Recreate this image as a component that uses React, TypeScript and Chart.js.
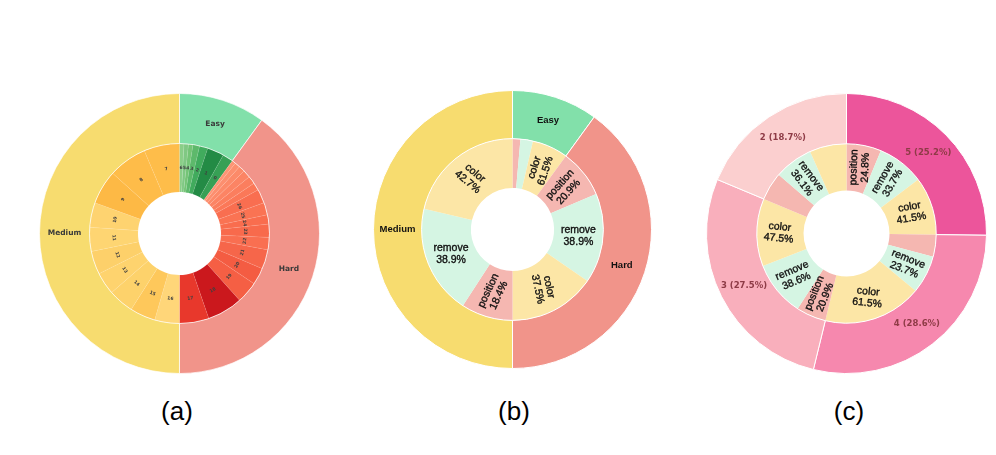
import React, { useEffect, useRef } from "react";
import { Chart, registerables } from "chart.js";

Chart.register(...registerables);

// ---------------- (a) difficulty / level ----------------
const aGroups = ["Easy", "Hard", "Medium"];
const aGroupColors = ["#82E0AA", "#F1948A", "#F7DC6F"];

const aEasyLevels = ["6", "5", "4", "3", "2", "1", "0"];
const aEasyValues = [0.8, 0.8, 0.8, 1.2, 1.5, 3.0, 1.9];
const aEasyColors = ["#8ACE88", "#80C883", "#74C476", "#5DB96B", "#41AB5D", "#238B45", "#37A055"];

const aHardLevels = ["", "", "", "", "", "", "26", "25", "24", "23", "22", "21", "20", "19", "18", "17"];
const aHardValues = [0.69, 0.97, 1.11, 1.39, 1.39, 1.39, 2.5, 2.22, 1.67, 2.36, 2.22, 3.47, 3.06, 3.89, 6.39, 5.28];
const aHardColors = [
  "#FD9575", "#FC8F6F", "#FC8A69", "#FC8464", "#FB7E5E", "#FB7858", "#F96E50", "#FA7353",
  "#F96D4E", "#F86A4C", "#F96F51", "#F6664A", "#F45C42", "#F55F44", "#CB181D", "#E8382C",
];

const aMediumLevels = ["16", "15", "14", "13", "12", "11", "10", "9", "8", "7"];
const aMediumValues = [4.44, 4.58, 4.58, 4.03, 4.17, 4.31, 4.44, 6.11, 6.94, 6.39];
const aMediumColors = ["#FFD679", "#FEC85B", "#FDD26B", "#FED36E", "#FDD06A", "#FED572", "#FED370", "#FDB945", "#FEBC49", "#FEBD4A"];

// ---------------- (b) difficulty / task ----------------
const bGroups = ["Easy", "Hard", "Medium"];
const bGroupShares = [10, 40, 50];
const bGroupColors = ["#82E0AA", "#F1948A", "#F7DC6F"];
const bTasks = ["position", "remove", "color"];
const bTaskColors = ["#F5B7B1", "#D5F5E3", "#FCE6A6"];
const bEasyPct = [13.5, 21.5, 61.5];
const bHardPct = [20.9, 38.9, 37.5];
const bMediumPct = [18.4, 38.9, 42.7];
const bEasyShown = [false, false, true];
const bHardShown = [true, true, true];
const bMediumShown = [true, true, true];

// ---------------- (c) count / task ----------------
const cGroups = ["5", "4", "3", "2"];
const cGroupShares = [25.2, 28.6, 27.5, 18.7];
const cGroupColors = ["#EC559B", "#F688AE", "#F9AFBC", "#FBCFCF"];
const cTasks = ["position", "remove", "color"];
const cTaskColors = ["#F5B7B1", "#D5F5E3", "#FCE6A6"];
const c5Pct = [24.8, 33.7, 41.5];
const c4Pct = [13.8, 23.7, 61.5];
const c3Pct = [20.9, 38.6, 47.5];
const c2Pct = [26.1, 36.1, 34.4];
const c5Shown = [true, true, true];
const c4Shown = [false, true, true];
const c3Shown = [true, true, true];
const c2Shown = [false, true, false];

const panelLabels = ["(a)", "(b)", "(c)"];

// ---------------- label styling (rotation in degrees, per inner slice) ----------------
const bInnerRotation = [0, 0, -72, -48, 0, 78, -65, 0, 40];
const cInnerRotation = [-88, -60, -10, 0, 22, 6, -68, -23, 6, 0, 53, 0];

// ---------------- helpers ----------------
type RingLabel = {
  texts: string[];
  font: string;
  color: string;
  orient: "none" | "radial" | "tangent" | "fixed";
  rotations?: number[];
  radius: number;
  lineHeight: number;
  thicken?: number;
};

type Ring = {
  values: number[];
  colors: string[];
  borderColor: string;
  borderWidth: number;
  weight: number;
  label: RingLabel;
};

type Spec = {
  left: number;
  top: number;
  size: number;
  cutout: number;
  outer: Ring;
  inner: Ring;
};

const sum = (a: number[]) => a.reduce((s, v) => s + v, 0);

function normAngle(a: number) {
  let r = Math.atan2(Math.sin(a), Math.cos(a));
  if (r > Math.PI / 2 + 1e-6) r -= Math.PI;
  if (r < -Math.PI / 2 - 1e-6) r += Math.PI;
  return r;
}

function makeLabelPlugin(rings: RingLabel[]) {
  return {
    id: "ringLabels",
    afterDatasetsDraw(chart: any) {
      const ctx = chart.ctx as CanvasRenderingContext2D;
      rings.forEach((ring, di) => {
        const meta = chart.getDatasetMeta(di);
        meta.data.forEach((el: any, i: number) => {
          const text = ring.texts[i];
          if (!text) return;
          const p = el.getProps(["x", "y", "startAngle", "endAngle", "innerRadius", "outerRadius"], true);
          const mid = (p.startAngle + p.endAngle) / 2;
          const r = p.innerRadius + (p.outerRadius - p.innerRadius) * ring.radius;
          const px = p.x + Math.cos(mid) * r;
          const py = p.y + Math.sin(mid) * r;
          let rot = 0;
          if (ring.orient === "radial") rot = normAngle(mid);
          else if (ring.orient === "tangent") rot = normAngle(mid + Math.PI / 2);
          else if (ring.orient === "fixed" && ring.rotations) rot = (ring.rotations[i] * Math.PI) / 180;
          ctx.save();
          ctx.translate(px, py);
          ctx.rotate(rot);
          ctx.font = ring.font;
          ctx.fillStyle = ring.color;
          ctx.strokeStyle = ring.color;
          ctx.lineWidth = ring.thicken || 0;
          ctx.textAlign = "center";
          ctx.textBaseline = "middle";
          const lines = text.split("\n");
          lines.forEach((ln, j) => {
            const yy = (j - (lines.length - 1) / 2) * ring.lineHeight;
            ctx.fillText(ln, 0, yy);
            if (ring.thicken) ctx.strokeText(ln, 0, yy);
          });
          ctx.restore();
        });
      });
    },
  };
}

function nestedValues(shares: number[], pcts: number[][]) {
  const out: number[] = [];
  shares.forEach((s, gi) => {
    const tot = sum(pcts[gi]);
    pcts[gi].forEach((v) => out.push((s * v) / tot));
  });
  return out;
}

function nestedTexts(pcts: number[][], shown: boolean[][], names: string[]) {
  const out: string[] = [];
  pcts.forEach((g, gi) =>
    g.forEach((v, ti) => out.push(shown[gi][ti] ? `${names[ti]}\n${v.toFixed(1)}%` : ""))
  );
  return out;
}

// ---------------- specs ----------------
const innerFont = "10.5px 'Liberation Sans', Arial, sans-serif";

const specA: Spec = {
  left: 39,
  top: 93,
  size: 281,
  cutout: 41.5,
  outer: {
    values: [sum(aEasyValues), sum(aHardValues), sum(aMediumValues)],
    colors: aGroupColors,
    borderColor: "rgba(255,255,255,0.7)",
    borderWidth: 1,
    weight: 50,
    label: {
      texts: aGroups,
      font: "bold 7.5px 'DejaVu Sans', sans-serif",
      color: "#3a3a3a",
      orient: "none",
      radius: 0.5,
      lineHeight: 9,
    },
  },
  inner: {
    values: [...aEasyValues, ...aHardValues, ...aMediumValues],
    colors: [...aEasyColors, ...aHardColors, ...aMediumColors],
    borderColor: "rgba(255,255,255,0.14)",
    borderWidth: 0.5,
    weight: 48.5,
    label: {
      texts: [...aEasyLevels, ...aHardLevels, ...aMediumLevels],
      font: "bold 4.5px 'DejaVu Sans', sans-serif",
      color: "#404040",
      orient: "tangent",
      radius: 0.5,
      lineHeight: 5,
    },
  },
};

const bPcts = [bEasyPct, bHardPct, bMediumPct];
const bShown = [bEasyShown, bHardShown, bMediumShown];
const specB: Spec = {
  left: 373,
  top: 90,
  size: 279,
  cutout: 41.6,
  outer: {
    values: bGroupShares,
    colors: bGroupColors,
    borderColor: "#ffffff",
    borderWidth: 1,
    weight: 48.2,
    label: {
      texts: bGroups,
      font: "bold 9.5px 'Liberation Sans', Arial, sans-serif",
      color: "#111111",
      orient: "none",
      radius: 0.5,
      lineHeight: 11,
    },
  },
  inner: {
    values: nestedValues(bGroupShares, bPcts),
    colors: bPcts.flatMap(() => bTaskColors),
    borderColor: "rgba(255,255,255,0)",
    borderWidth: 0,
    weight: 49.4,
    label: {
      texts: nestedTexts(bPcts, bShown, bTasks),
      font: innerFont,
      color: "#111111",
      orient: "fixed",
      rotations: bInnerRotation,
      radius: 0.5,
      lineHeight: 11.5,
      thicken: 0.35,
    },
  },
};

const cPcts = [c5Pct, c4Pct, c3Pct, c2Pct];
const cShown = [c5Shown, c4Shown, c3Shown, c2Shown];
const specC: Spec = {
  left: 706,
  top: 93,
  size: 281,
  cutout: 43,
  outer: {
    values: cGroupShares,
    colors: cGroupColors,
    borderColor: "#ffffff",
    borderWidth: 1,
    weight: 50.3,
    label: {
      texts: cGroups.map((g, i) => `${g} (${cGroupShares[i].toFixed(1)}%)`),
      font: "bold 8.5px 'DejaVu Sans', sans-serif",
      color: "#8E3B46",
      orient: "none",
      radius: 0.5,
      lineHeight: 10,
    },
  },
  inner: {
    values: nestedValues(cGroupShares, cPcts),
    colors: cPcts.flatMap(() => cTaskColors),
    borderColor: "rgba(255,255,255,0)",
    borderWidth: 0,
    weight: 46.7,
    label: {
      texts: nestedTexts(cPcts, cShown, cTasks),
      font: innerFont,
      color: "#111111",
      orient: "fixed",
      rotations: cInnerRotation,
      radius: 0.52,
      lineHeight: 11.5,
      thicken: 0.35,
    },
  },
};

function RingChart({ spec }: { spec: Spec }) {
  const ref = useRef<HTMLCanvasElement | null>(null);
  useEffect(() => {
    if (!ref.current) return;
    const mk = (r: Ring) => ({
      data: r.values,
      backgroundColor: r.colors,
      borderColor: r.borderColor,
      borderWidth: r.borderWidth,
      weight: r.weight,
    });
    const chart = new Chart(ref.current, {
      type: "doughnut",
      data: { datasets: [mk(spec.outer), mk(spec.inner)] as any },
      options: {
        responsive: false,
        animation: false,
        cutout: spec.cutout,
        events: [],
        layout: { padding: 0 },
        plugins: { legend: { display: false }, tooltip: { enabled: false } },
      } as any,
      plugins: [makeLabelPlugin([spec.outer.label, spec.inner.label]) as any],
    });
    return () => chart.destroy();
  }, [spec]);
  return (
    <canvas
      ref={ref}
      width={spec.size}
      height={spec.size}
      style={{ position: "absolute", left: spec.left, top: spec.top, width: spec.size, height: spec.size }}
    />
  );
}

const labelCenters = [177, 514, 849];

export default function App() {
  return (
    <div style={{ position: "fixed", left: 0, top: 0, width: 996, height: 455, background: "#ffffff", overflow: "hidden" }}>
      <RingChart spec={specA} />
      <RingChart spec={specB} />
      <RingChart spec={specC} />
      {panelLabels.map((t, i) => (
        <div
          key={t}
          style={{
            position: "absolute",
            left: labelCenters[i] - 40,
            width: 80,
            top: 396,
            textAlign: "center",
            fontFamily: "'Liberation Sans', Arial, sans-serif",
            fontSize: 26,
            lineHeight: "30px",
            color: "#000",
          }}
        >
          {t}
        </div>
      ))}
    </div>
  );
}
